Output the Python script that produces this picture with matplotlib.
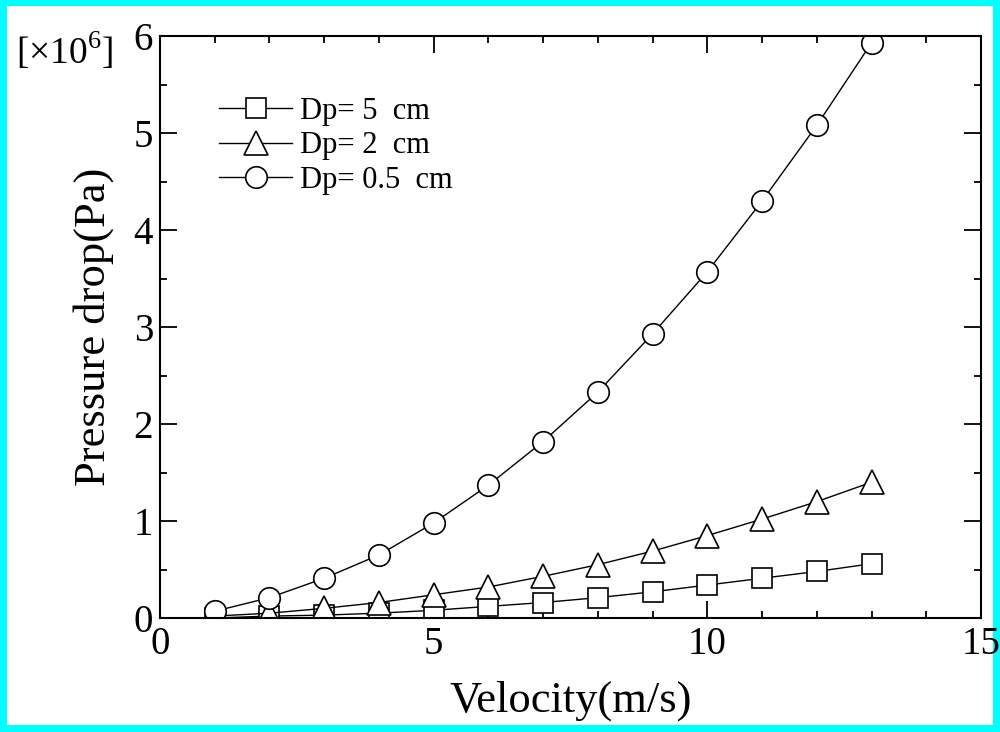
import numpy as np
import matplotlib
matplotlib.use("Agg")
import matplotlib.pyplot as plt
from matplotlib.patches import Rectangle
from matplotlib.ticker import MultipleLocator

plt.rcParams['font.family'] = ['Liberation Serif', 'DejaVu Serif']
plt.rcParams['mathtext.fontset'] = 'custom'
plt.rcParams['mathtext.rm'] = 'Liberation Serif'

# data (pressure drop in units of 1e6 Pa)
velocity = [1, 2, 3, 4, 5, 6, 7, 8, 9, 10, 11, 12, 13]
dp_5cm = [0.00, 0.02, 0.03, 0.05, 0.08, 0.12, 0.16, 0.21, 0.27, 0.34, 0.41, 0.48, 0.56]
dp_2cm = [0.02, 0.05, 0.10, 0.16, 0.24, 0.32, 0.43, 0.55, 0.69, 0.85, 1.02, 1.20, 1.40]
dp_05cm = [0.07, 0.21, 0.41, 0.65, 0.98, 1.37, 1.82, 2.33, 2.93, 3.57, 4.30, 5.08, 5.93]
labels = ['Dp= 5  cm', 'Dp= 2  cm', 'Dp= 0.5  cm']

fig = plt.figure(figsize=(10, 7.32), dpi=100)
fig.patch.set_facecolor('#00FFFF')
# white panel inside the cyan border
fig.patches.append(Rectangle((7 / 1000, 7 / 732), 986 / 1000, 719 / 732,
                             transform=fig.transFigure, facecolor='white',
                             edgecolor='none', zorder=-10))

ax = fig.add_axes([0.160, 0.1557, 0.821, 0.795])

style = dict(color='black', lw=1.0, mfc='white', mec='black', mew=1.2)
ax.plot(velocity, dp_5cm, marker='s', ms=15, label=labels[0], **style)
ax.plot(velocity, dp_2cm, marker='^', ms=17, label=labels[1], **style)
ax.plot(velocity, dp_05cm, marker='o', ms=15.5, label=labels[2], **style)

ax.set_xlim(0, 15)
ax.set_ylim(0, 6)
ax.xaxis.set_major_locator(MultipleLocator(5))
ax.xaxis.set_minor_locator(MultipleLocator(1))
ax.yaxis.set_major_locator(MultipleLocator(1))
ax.yaxis.set_minor_locator(MultipleLocator(0.5))
ax.tick_params(which='both', direction='in', top=True, right=True,
               labelsize=28, width=1.3)
ax.tick_params(which='major', length=12)
ax.tick_params(which='minor', length=5)
ax.tick_params(axis='y', which='major', pad=5)
ax.tick_params(axis='x', which='major', pad=6)
for sp in ax.spines.values():
    sp.set_linewidth(1.5)

ax.set_xlabel('Velocity(m/s)', fontsize=32, labelpad=12)
ax.set_ylabel('Pressure drop(Pa)', fontsize=32, labelpad=14)

fig.text(0.016, 0.912, r'[$\times$10$^{6}$]', fontsize=27)

ax.legend(loc='upper left', bbox_to_anchor=(0.072, 0.895), frameon=False,
          fontsize=22, handlelength=2.4, handletextpad=0.25,
          labelspacing=0.17, borderpad=0, borderaxespad=0, numpoints=1)

fig.savefig('out.png', dpi=100, facecolor=fig.get_facecolor())
